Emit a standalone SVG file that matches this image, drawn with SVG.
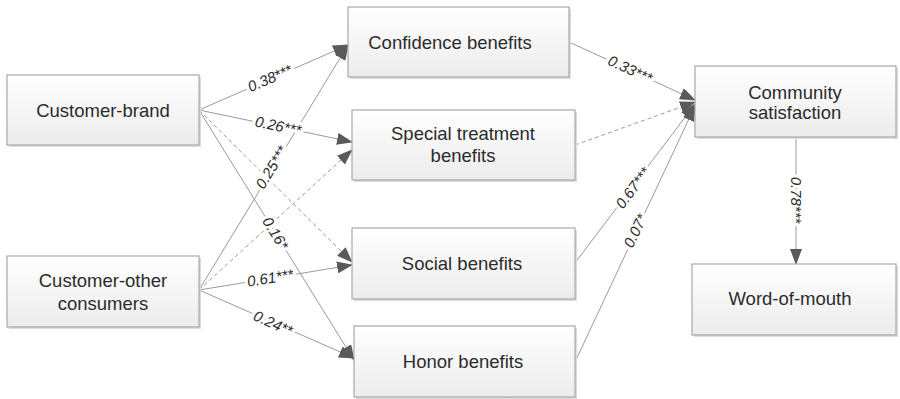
<svg xmlns="http://www.w3.org/2000/svg" width="900" height="399" viewBox="0 0 900 399">
<defs>
<linearGradient id="g" x1="0" y1="0" x2="0" y2="1">
<stop offset="0" stop-color="#ffffff"/>
<stop offset="1" stop-color="#ececec"/>
</linearGradient>
<marker id="ah" markerUnits="userSpaceOnUse" markerWidth="16" markerHeight="12" viewBox="0 0 16 12" refX="15" refY="6" orient="auto">
<path d="M0,0 L16,6 L0,12 z" fill="#5a5a5a"/>
</marker>
</defs>
<style>
.box{fill:url(#g);stroke:#a8a8a8;stroke-width:1.2}
.sh{fill:#dcdcdc}
.t{font-family:"Liberation Sans",Arial,sans-serif;font-size:18.5px;fill:#2b2b2b;text-anchor:middle}
.c{stroke:#9a9a9a;stroke-width:1;fill:none;marker-end:url(#ah)}
.d{stroke-dasharray:4,3}
.l{font-family:"Liberation Sans",Arial,sans-serif;font-size:15px;font-style:italic;fill:#2b2b2b;text-anchor:middle;stroke:#fff;stroke-width:6;paint-order:stroke;stroke-linejoin:round}
</style>
<rect width="900" height="399" fill="#fff"/>
<g id="connectors">
<line class="c" x1="199" y1="110" x2="348" y2="45"/>
<line class="c" x1="199" y1="110" x2="352" y2="142"/>
<line class="c d" x1="199" y1="110" x2="352" y2="262"/>
<line class="c" x1="199" y1="110" x2="354" y2="360"/>
<line class="c" x1="199" y1="290" x2="348" y2="45"/>
<line class="c d" x1="199" y1="290" x2="352" y2="150"/>
<line class="c" x1="199" y1="290" x2="352" y2="265"/>
<line class="c" x1="199" y1="290" x2="354" y2="358"/>
<line class="c" x1="569" y1="42" x2="695" y2="100"/>
<line class="c d" x1="575" y1="145" x2="695" y2="102"/>
<line class="c" x1="575" y1="263" x2="695" y2="104"/>
<line class="c" x1="575" y1="362" x2="695" y2="106"/>
<line class="c" x1="796" y1="137" x2="796" y2="264"/>
<text class="l" transform="translate(272,83) rotate(-23.6)">0.38***</text>
<text class="l" transform="translate(277,131) rotate(11.8)">0.26***</text>
<text class="l" transform="translate(276,170) rotate(-58.7)">0.25***</text>
<text class="l" transform="translate(271,236) rotate(58.2)">0.16*</text>
<text class="l" transform="translate(271,283) rotate(-9.3)">0.61***</text>
<text class="l" transform="translate(271,328) rotate(24.3)">0.24**</text>
<text class="l" transform="translate(628,74) rotate(24.7)">0.33***</text>
<text class="l" transform="translate(637,191) rotate(-53)">0.67***</text>
<text class="l" transform="translate(640,233) rotate(-64.9)">0.07*</text>
<text class="l" transform="translate(791,200) rotate(90)">0.78***</text>
</g>
<g id="customer-brand">
<rect class="sh" x="9" y="77" width="192" height="70"/>
<rect class="box" x="7" y="75" width="192" height="70"/>
<text class="t" x="103" y="117">Customer-brand</text>
</g>
<g id="customer-other">
<rect class="sh" x="9" y="258" width="192" height="71"/>
<rect class="box" x="7" y="256" width="192" height="71"/>
<text class="t" x="103" y="287">Customer-other</text>
<text class="t" x="103" y="310">consumers</text>
</g>
<g id="confidence">
<rect class="sh" x="350" y="9" width="221" height="70"/>
<rect class="box" x="348" y="7" width="221" height="70"/>
<text class="t" x="450" y="49">Confidence benefits</text>
</g>
<g id="special">
<rect class="sh" x="354" y="112" width="223" height="70"/>
<rect class="box" x="352" y="110" width="223" height="70"/>
<text class="t" x="463" y="140">Special treatment</text>
<text class="t" x="463" y="162">benefits</text>
</g>
<g id="social">
<rect class="sh" x="354" y="230" width="223" height="71"/>
<rect class="box" x="352" y="228" width="223" height="71"/>
<text class="t" x="462" y="270">Social benefits</text>
</g>
<g id="honor">
<rect class="sh" x="356" y="328" width="221" height="71"/>
<rect class="box" x="354" y="326" width="221" height="71"/>
<text class="t" x="463" y="368">Honor benefits</text>
</g>
<g id="community">
<rect class="sh" x="697" y="68" width="201" height="71"/>
<rect class="box" x="695" y="66" width="201" height="71"/>
<text class="t" x="795" y="99">Community</text>
<text class="t" x="795" y="119">satisfaction</text>
</g>
<g id="wom">
<rect class="sh" x="694" y="266" width="204" height="71"/>
<rect class="box" x="692" y="264" width="204" height="71"/>
<text class="t" x="790" y="305">Word-of-mouth</text>
</g>
</svg>
